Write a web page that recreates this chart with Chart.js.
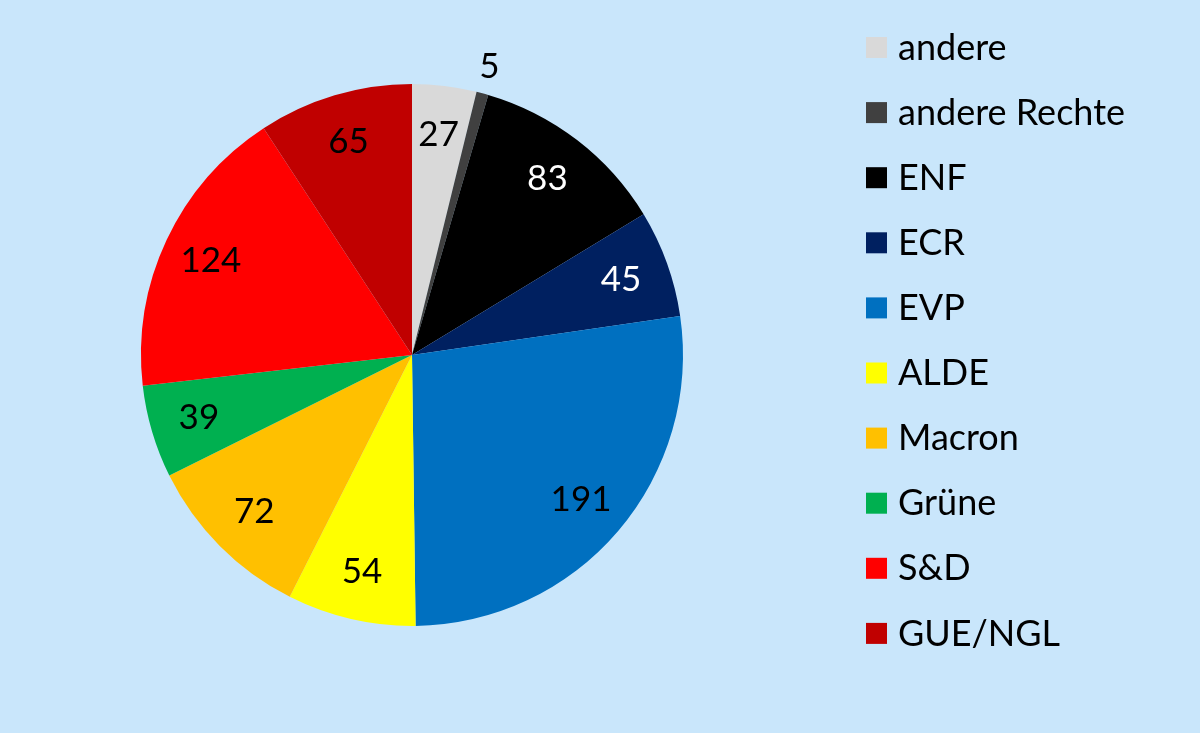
<!DOCTYPE html>
<html>
<head>
<meta charset="utf-8">
<script src="https://cdn.jsdelivr.net/npm/chart.js@4/dist/chart.umd.min.js"></script>
<style>
  html, body { margin: 0; padding: 0; background: #C9E6FB; }
  #wrap { position: relative; width: 1200px; height: 733px; }
</style>
</head>
<body>
<div id="wrap"><canvas id="myChart" width="1200" height="733"></canvas></div>
<script>
// Daten
const labels = ['andere', 'andere Rechte', 'ENF', 'ECR', 'EVP', 'ALDE', 'Macron', 'Grüne', 'S&D', 'GUE/NGL'];
const seats = [27, 5, 83, 45, 191, 54, 72, 39, 124, 65];
const colors = ['#D9D9D9', '#404040', '#000000', '#002060', '#0070C0', '#FFFF00', '#FFC000', '#00B050', '#FF0000', '#C00000'];
const labelColors = ['#000', '#000', '#fff', '#fff', '#000', '#000', '#000', '#000', '#000', '#000'];

const FONT = 'Lato, "Open Sans", sans-serif';

// Zahlen auf den Segmenten
const valuePlugin = {
  id: 'valueLabels',
  afterDatasetsDraw(chart) {
    const ctx = chart.ctx;
    const meta = chart.getDatasetMeta(0);
    ctx.save();
    ctx.font = '35px ' + FONT;
    ctx.textAlign = 'center';
    ctx.textBaseline = 'middle';
    meta.data.forEach((arc, i) => {
      const mid = (arc.startAngle + arc.endAngle) / 2;
      // kleines Segment -> außerhalb
      const f = seats[i] < 10 ? 1.1 : 0.82;
      const r = arc.outerRadius * f;
      ctx.fillStyle = seats[i] < 10 ? '#000' : labelColors[i];
      ctx.fillText(String(seats[i]), arc.x + Math.cos(mid) * r, arc.y + Math.sin(mid) * r);
    });
    ctx.restore();
  }
};

// Legende rechts
const legendPlugin = {
  id: 'sideLegend',
  afterDraw(chart) {
    const ctx = chart.ctx;
    ctx.save();
    ctx.font = '36px ' + FONT;
    ctx.textBaseline = 'middle';
    labels.forEach((lab, i) => {
      const y = 47 + i * 65.1;
      ctx.fillStyle = colors[i];
      ctx.fillRect(866, y - 10, 21, 21);
      ctx.fillStyle = '#000';
      ctx.fillText(lab, 898, y + 1);
    });
    ctx.restore();
  }
};

new Chart(document.getElementById('myChart'), {
  type: 'pie',
  data: {
    labels: labels,
    datasets: [{
      data: seats,
      backgroundColor: colors,
      borderWidth: 0
    }]
  },
  options: {
    responsive: false,
    animation: false,
    layout: { padding: { top: 84, bottom: 107, left: 141, right: 517 } },
    plugins: {
      legend: { display: false },
      tooltip: { enabled: false }
    }
  },
  plugins: [valuePlugin, legendPlugin]
});
</script>
</body>
</html>
